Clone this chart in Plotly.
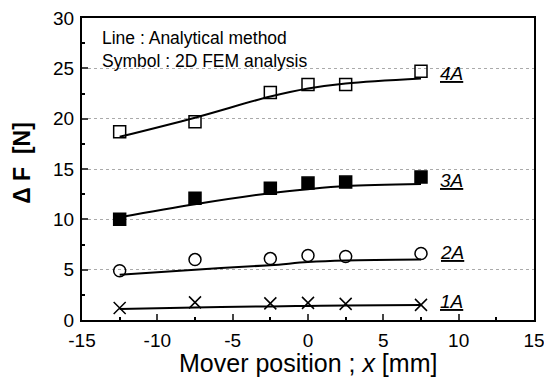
import plotly.graph_objects as go

x = [-12.5, -7.5, -2.5, 0, 2.5, 7.5]
fem_4A = [18.7, 19.7, 22.6, 23.4, 23.4, 24.7]
fem_3A = [10.0, 12.1, 13.1, 13.6, 13.7, 14.2]
fem_2A = [4.9, 6.0, 6.1, 6.4, 6.3, 6.6]
fem_1A = [1.2, 1.75, 1.65, 1.7, 1.6, 1.5]

ana_4A = [18.2, 20.1, 22.2, 23.0, 23.5, 24.0]
ana_3A = [10.2, 11.5, 12.6, 13.0, 13.3, 13.5]
ana_2A = [4.5, 5.0, 5.45, 5.75, 5.9, 6.0]
ana_1A = [1.1, 1.25, 1.35, 1.4, 1.45, 1.5]

labels = ["4A", "3A", "2A", "1A"]
label_y = [24.5, 13.9, 6.75, 1.8]

x_ticks = [-15, -10, -5, 0, 5, 10, 15]
x_ticktext = ["-15", "-10", "-5", "0", "5", "10", "15"]
y_ticks = [0, 5, 10, 15, 20, 25, 30]

FONT = "Liberation Sans, Arial"

fig = go.Figure()
for ana in [ana_4A, ana_3A, ana_2A, ana_1A]:
    fig.add_trace(go.Scatter(x=x, y=ana, mode="lines", line=dict(color="black", width=2, shape="spline"),
                             showlegend=False))
sym = [("square-open", fem_4A), ("square", fem_3A), ("circle-open", fem_2A), ("x-thin-open", fem_1A)]
for s, d in sym:
    fig.add_trace(go.Scatter(x=x, y=d, mode="markers",
                             marker=dict(symbol=s, size=12, color="black",
                                         line=dict(color="black", width=1.5)),
                             showlegend=False))

for lab, ly in zip(labels, label_y):
    fig.add_annotation(x=9.55, y=ly, text=f"<i><u>{lab}</u></i>", showarrow=False,
                       xanchor="center", yanchor="middle",
                       font=dict(family=FONT, size=19, color="black"))

fig.add_annotation(x=0.04, y=0.975, xref="paper", yref="paper", xanchor="left", yanchor="top",
                   text="Line : Analytical method<br>Symbol : 2D FEM analysis", showarrow=False, align="left",
                   font=dict(family=FONT, size=17.5, color="black"))

# axis titles
fig.add_annotation(x=0.5, y=-0.142, xref="paper", yref="paper", xanchor="center", yanchor="middle",
                   text="Mover position ; <i>x</i> [mm]", showarrow=False,
                   font=dict(family=FONT, size=25, color="black"))
fig.add_annotation(x=-0.133, y=0.52, xref="paper", yref="paper", xanchor="center", yanchor="middle",
                   text="<b>Δ F  [N]</b>", showarrow=False, textangle=-90,
                   font=dict(family=FONT, size=23, color="black"))

fig.update_layout(
    width=544, height=378,
    margin=dict(l=82, r=10, t=18, b=58),
    paper_bgcolor="white", plot_bgcolor="white",
    font=dict(family=FONT, size=19, color="black"),
    xaxis=dict(range=[-15, 15], tickvals=x_ticks, ticktext=x_ticktext, ticks="inside", ticklen=6,
               tickwidth=1.5, showgrid=False, zeroline=False, showline=True, linecolor="black",
               linewidth=2, mirror=True, automargin=False, ticklabelstandoff=2,
               ticklabeloverflow="allow",
               minor=dict(ticks="inside", ticklen=3, dtick=2.5, tickcolor="black")),
    yaxis=dict(range=[0, 30], tickvals=y_ticks, ticks="inside", ticklen=6,
               tickwidth=1.5, showgrid=True, gridcolor="#aaaaaa", griddash="dot", gridwidth=1,
               zeroline=False, showline=True, linecolor="black", linewidth=2, mirror=True,
               automargin=False, ticklabeloverflow="allow", ticklabelstandoff=2,
               minor=dict(ticks="inside", ticklen=3, dtick=2.5, tickcolor="black")),
)
fig.write_html("out.html")
